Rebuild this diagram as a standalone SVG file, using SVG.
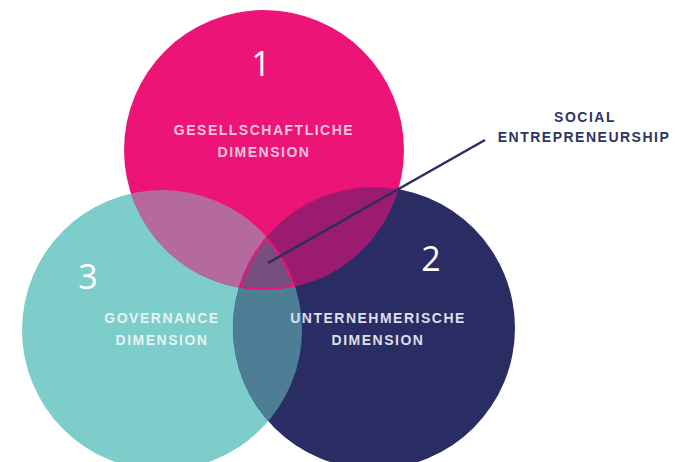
<svg xmlns="http://www.w3.org/2000/svg" width="675" height="462" viewBox="0 0 675 462">
<defs>
<clipPath id="cP"><circle cx="264" cy="150" r="140"/></clipPath>
<clipPath id="cT"><circle cx="162" cy="330" r="140"/></clipPath>
<clipPath id="cN"><circle cx="374" cy="328" r="141"/></clipPath>
<style>
.lbl{font-family:"Liberation Sans",Arial,sans-serif;font-weight:bold;font-size:14px;letter-spacing:1.5px;text-anchor:middle}
.num{font-family:"Open Sans","Liberation Sans",sans-serif;font-size:34px;fill:#ffffff;text-anchor:middle}
</style>
</defs>
<rect width="675" height="462" fill="#ffffff"/>
<g id="circle-teal"><circle cx="162" cy="330" r="140" fill="#7DCDCA"/></g>
<g id="circle-navy"><circle cx="374" cy="328" r="141" fill="#292D64"/></g>
<g id="circle-pink"><circle cx="264" cy="150" r="140" fill="#EC1476"/></g>
<g id="overlaps">
<g clip-path="url(#cP)"><circle cx="162" cy="330" r="140" fill="#B46A9F"/><circle cx="374" cy="328" r="141" fill="#9A1B6F"/></g>
<g clip-path="url(#cT)"><circle cx="374" cy="328" r="141" fill="#4D7E96"/></g>
<g clip-path="url(#cP)"><g clip-path="url(#cT)"><g clip-path="url(#cN)">
<rect x="0" y="0" width="675" height="462" fill="#784D80"/>
<circle cx="264" cy="150" r="140" fill="none" stroke="#EC1476" stroke-width="4"/>
<circle cx="162" cy="330" r="140" fill="none" stroke="#EC1476" stroke-width="4"/>
<circle cx="374" cy="328" r="141" fill="none" stroke="#EC1476" stroke-width="4"/>
</g></g></g>
</g>
<g id="connectors"><line x1="268" y1="263" x2="485" y2="140" stroke="#2A2F5E" stroke-width="2.5"/></g>
<g id="label-social"><text class="lbl" fill="#2E3560" x="585" y="122">SOCIAL</text><text class="lbl" fill="#2E3560" x="584" y="142">ENTREPRENEURSHIP</text></g>
<g id="label-pink"><text class="num" x="261" y="76">1</text><text class="lbl" fill="#F6C3DB" x="264" y="135">GESELLSCHAFTLICHE</text><text class="lbl" fill="#F6C3DB" x="264" y="157">DIMENSION</text></g>
<g id="label-navy"><text class="num" x="431" y="271">2</text><text class="lbl" fill="#DDDEEC" x="378" y="323">UNTERNEHMERISCHE</text><text class="lbl" fill="#DDDEEC" x="378" y="345">DIMENSION</text></g>
<g id="label-teal"><text class="num" x="88" y="289">3</text><text class="lbl" fill="#E3F4F3" x="162" y="323">GOVERNANCE</text><text class="lbl" fill="#E3F4F3" x="162" y="345">DIMENSION</text></g>
</svg>
